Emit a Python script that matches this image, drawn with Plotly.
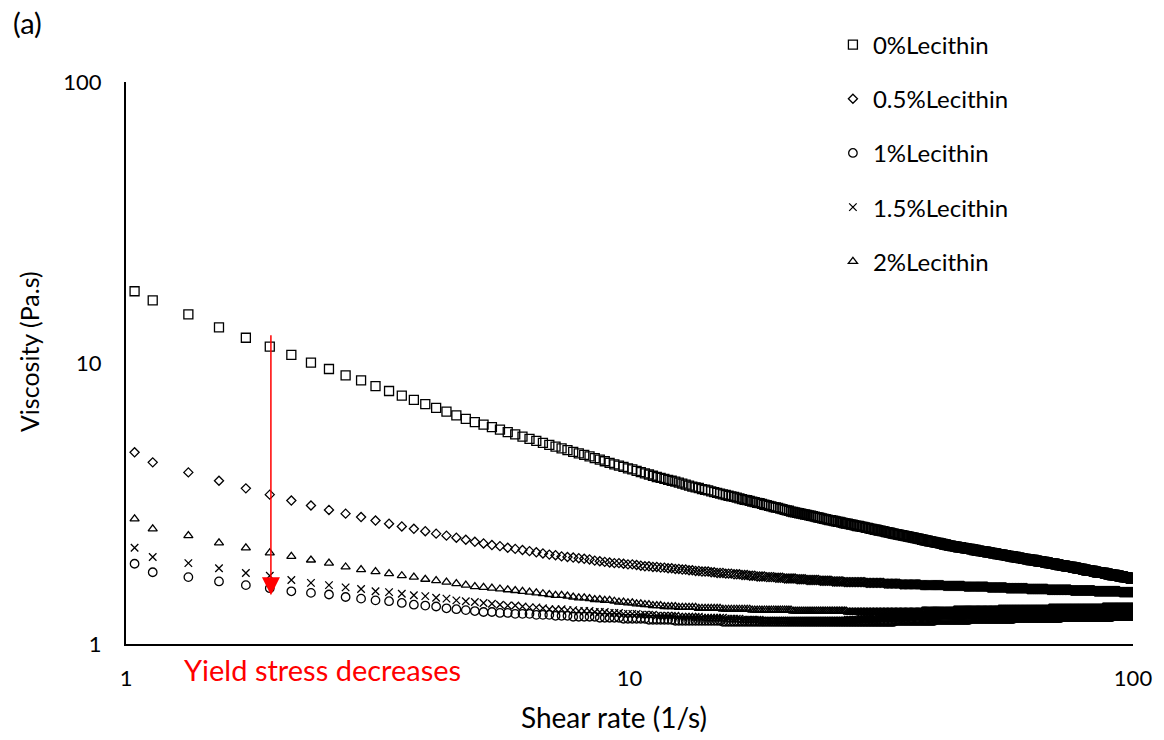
import math
import plotly.graph_objects as go

# Shear-rate ramp (1/s) shared by all five samples
shear_rate = [
    1.04,
    1.13, 1.33, 1.53, 1.73, 1.93, 2.13, 2.33, 2.53, 2.73, 2.93,
    3.13, 3.33, 3.53, 3.73, 3.93, 4.13, 4.33, 4.53, 4.73, 4.93,
    5.13, 5.33, 5.53, 5.73, 5.93, 6.13, 6.33, 6.53, 6.73, 6.93,
    7.13, 7.33, 7.53, 7.73, 7.93, 8.13, 8.33, 8.53, 8.73, 8.93,
    9.13, 9.33, 9.53, 9.73, 9.93, 10.13, 10.33, 10.53, 10.73, 10.93,
    11.13, 11.33, 11.53, 11.73, 11.93, 12.13, 12.33, 12.53, 12.73, 12.93,
    13.13, 13.33, 13.53, 13.73, 13.93, 14.13, 14.33, 14.53, 14.73, 14.93,
    15.13, 15.33, 15.53, 15.73, 15.93, 16.13, 16.33, 16.53, 16.73, 16.93,
    17.13, 17.33, 17.53, 17.73, 17.93, 18.13, 18.33, 18.53, 18.73, 18.93,
    19.13, 19.33, 19.53, 19.73, 19.93, 20.13, 20.33, 20.53, 20.73, 20.93,
    21.13, 21.33, 21.53, 21.73, 21.93, 22.13, 22.33, 22.53, 22.73, 22.93,
    23.13, 23.33, 23.53, 23.73, 23.93, 24.13, 24.33, 24.53, 24.73, 24.93,
    25.13, 25.33, 25.53, 25.73, 25.93, 26.13, 26.33, 26.53, 26.73, 26.93,
    27.13, 27.33, 27.53, 27.73, 27.93, 28.13, 28.33, 28.53, 28.73, 28.93,
    29.13, 29.33, 29.53, 29.73, 29.93, 30.13, 30.33, 30.53, 30.73, 30.93,
    31.13, 31.33, 31.53, 31.73, 31.93, 32.13, 32.33, 32.53, 32.73, 32.93,
    33.13, 33.33, 33.53, 33.73, 33.93, 34.13, 34.33, 34.53, 34.73, 34.93,
    35.13, 35.33, 35.53, 35.73, 35.93, 36.13, 36.33, 36.53, 36.73, 36.93,
    37.13, 37.33, 37.53, 37.73, 37.93, 38.13, 38.33, 38.53, 38.73, 38.93,
    39.13, 39.33, 39.53, 39.73, 39.93, 40.13, 40.33, 40.53, 40.73, 40.93,
    41.13, 41.33, 41.53, 41.73, 41.93, 42.13, 42.33, 42.53, 42.73, 42.93,
    43.13, 43.33, 43.53, 43.73, 43.93, 44.13, 44.33, 44.53, 44.73, 44.93,
    45.13, 45.33, 45.53, 45.73, 45.93, 46.13, 46.33, 46.53, 46.73, 46.93,
    47.13, 47.33, 47.53, 47.73, 47.93, 48.13, 48.33, 48.53, 48.73, 48.93,
    49.13, 49.33, 49.53, 49.73, 49.93, 50.13, 50.33, 50.53, 50.73, 50.93,
    51.13, 51.33, 51.53, 51.73, 51.93, 52.13, 52.33, 52.53, 52.73, 52.93,
    53.13, 53.33, 53.53, 53.73, 53.93, 54.13, 54.33, 54.53, 54.73, 54.93,
    55.13, 55.33, 55.53, 55.73, 55.93, 56.13, 56.33, 56.53, 56.73, 56.93,
    57.13, 57.33, 57.53, 57.73, 57.93, 58.13, 58.33, 58.53, 58.73, 58.93,
    59.13, 59.33, 59.53, 59.73, 59.93, 60.13, 60.33, 60.53, 60.73, 60.93,
    61.13, 61.33, 61.53, 61.73, 61.93, 62.13, 62.33, 62.53, 62.73, 62.93,
    63.13, 63.33, 63.53, 63.73, 63.93, 64.13, 64.33, 64.53, 64.73, 64.93,
    65.13, 65.33, 65.53, 65.73, 65.93, 66.13, 66.33, 66.53, 66.73, 66.93,
    67.13, 67.33, 67.53, 67.73, 67.93, 68.13, 68.33, 68.53, 68.73, 68.93,
    69.13, 69.33, 69.53, 69.73, 69.93, 70.13, 70.33, 70.53, 70.73, 70.93,
    71.13, 71.33, 71.53, 71.73, 71.93, 72.13, 72.33, 72.53, 72.73, 72.93,
    73.13, 73.33, 73.53, 73.73, 73.93, 74.13, 74.33, 74.53, 74.73, 74.93,
    75.13, 75.33, 75.53, 75.73, 75.93, 76.13, 76.33, 76.53, 76.73, 76.93,
    77.13, 77.33, 77.53, 77.73, 77.93, 78.13, 78.33, 78.53, 78.73, 78.93,
    79.13, 79.33, 79.53, 79.73, 79.93, 80.13, 80.33, 80.53, 80.73, 80.93,
    81.13, 81.33, 81.53, 81.73, 81.93, 82.13, 82.33, 82.53, 82.73, 82.93,
    83.13, 83.33, 83.53, 83.73, 83.93, 84.13, 84.33, 84.53, 84.73, 84.93,
    85.13, 85.33, 85.53, 85.73, 85.93, 86.13, 86.33, 86.53, 86.73, 86.93,
    87.13, 87.33, 87.53, 87.73, 87.93, 88.13, 88.33, 88.53, 88.73, 88.93,
    89.13, 89.33, 89.53, 89.73, 89.93, 90.13, 90.33, 90.53, 90.73, 90.93,
    91.13, 91.33, 91.53, 91.73, 91.93, 92.13, 92.33, 92.53, 92.73, 92.93,
    93.13, 93.33, 93.53, 93.73, 93.93, 94.13, 94.33, 94.53, 94.73, 94.93,
    95.13, 95.33, 95.53, 95.73, 95.93, 96.13, 96.33, 96.53, 96.73, 96.93,
    97.13, 97.33, 97.53, 97.73, 97.93, 98.13, 98.33, 98.53, 98.73, 98.93,
    99.13, 99.33, 99.53, 99.73, 99.93,
]

# Viscosity (Pa.s) of each sample along the ramp
visc_0 = [
    18.0,
    16.7, 14.9, 13.4, 12.3, 11.43, 10.68, 10.03, 9.52, 9.04, 8.68,
    8.28, 7.95, 7.66, 7.39, 7.14, 6.92, 6.71, 6.51, 6.33, 6.16,
    6.04, 5.91, 5.79, 5.68, 5.57, 5.47, 5.37, 5.28, 5.20, 5.11,
    5.04, 4.97, 4.90, 4.83, 4.77, 4.71, 4.65, 4.59, 4.53, 4.47,
    4.41, 4.36, 4.31, 4.27, 4.22, 4.18, 4.13, 4.09, 4.05, 4.01,
    3.97, 3.93, 3.90, 3.87, 3.84, 3.81, 3.78, 3.75, 3.72, 3.69,
    3.66, 3.63, 3.61, 3.59, 3.56, 3.54, 3.52, 3.49, 3.47, 3.45,
    3.43, 3.41, 3.39, 3.37, 3.35, 3.34, 3.32, 3.30, 3.28, 3.26,
    3.25, 3.23, 3.21, 3.20, 3.18, 3.17, 3.15, 3.13, 3.12, 3.10,
    3.09, 3.07, 3.06, 3.05, 3.03, 3.02, 3.00, 2.99, 2.98, 2.96,
    2.95, 2.94, 2.93, 2.92, 2.91, 2.90, 2.89, 2.88, 2.87, 2.86,
    2.85, 2.84, 2.83, 2.82, 2.81, 2.80, 2.79, 2.78, 2.77, 2.76,
    2.76, 2.75, 2.74, 2.73, 2.72, 2.72, 2.71, 2.70, 2.69, 2.68,
    2.68, 2.67, 2.66, 2.66, 2.65, 2.64, 2.63, 2.63, 2.62, 2.61,
    2.61, 2.60, 2.59, 2.59, 2.58, 2.57, 2.57, 2.56, 2.55, 2.55,
    2.54, 2.53, 2.53, 2.52, 2.52, 2.51, 2.50, 2.50, 2.49, 2.49,
    2.48, 2.47, 2.47, 2.46, 2.46, 2.45, 2.45, 2.44, 2.44, 2.43,
    2.43, 2.42, 2.42, 2.41, 2.41, 2.40, 2.40, 2.39, 2.39, 2.38,
    2.38, 2.37, 2.37, 2.36, 2.36, 2.35, 2.35, 2.34, 2.34, 2.33,
    2.33, 2.32, 2.32, 2.32, 2.31, 2.31, 2.30, 2.30, 2.29, 2.29,
    2.29, 2.28, 2.28, 2.27, 2.27, 2.26, 2.26, 2.26, 2.25, 2.25,
    2.24, 2.24, 2.24, 2.23, 2.23, 2.23, 2.22, 2.22, 2.22, 2.21,
    2.21, 2.21, 2.21, 2.20, 2.20, 2.20, 2.19, 2.19, 2.19, 2.18,
    2.18, 2.18, 2.18, 2.17, 2.17, 2.17, 2.16, 2.16, 2.16, 2.15,
    2.15, 2.15, 2.15, 2.14, 2.14, 2.14, 2.14, 2.13, 2.13, 2.13,
    2.13, 2.12, 2.12, 2.12, 2.12, 2.11, 2.11, 2.11, 2.10, 2.10,
    2.10, 2.10, 2.10, 2.09, 2.09, 2.09, 2.09, 2.08, 2.08, 2.08,
    2.08, 2.07, 2.07, 2.07, 2.07, 2.06, 2.06, 2.06, 2.06, 2.05,
    2.05, 2.05, 2.05, 2.05, 2.04, 2.04, 2.04, 2.04, 2.03, 2.03,
    2.03, 2.03, 2.03, 2.02, 2.02, 2.02, 2.02, 2.01, 2.01, 2.01,
    2.01, 2.01, 2.00, 2.00, 2.00, 2.00, 2.00, 1.99, 1.99, 1.99,
    1.99, 1.99, 1.99, 1.98, 1.98, 1.98, 1.98, 1.98, 1.97, 1.97,
    1.97, 1.97, 1.97, 1.97, 1.96, 1.96, 1.96, 1.96, 1.96, 1.95,
    1.95, 1.95, 1.95, 1.95, 1.94, 1.94, 1.94, 1.94, 1.94, 1.93,
    1.93, 1.93, 1.93, 1.93, 1.93, 1.92, 1.92, 1.92, 1.92, 1.92,
    1.92, 1.91, 1.91, 1.91, 1.91, 1.91, 1.90, 1.90, 1.90, 1.90,
    1.90, 1.90, 1.89, 1.89, 1.89, 1.89, 1.89, 1.88, 1.88, 1.88,
    1.88, 1.88, 1.88, 1.88, 1.87, 1.87, 1.87, 1.87, 1.87, 1.87,
    1.87, 1.86, 1.86, 1.86, 1.86, 1.86, 1.85, 1.85, 1.85, 1.85,
    1.85, 1.85, 1.84, 1.84, 1.84, 1.84, 1.84, 1.84, 1.83, 1.83,
    1.83, 1.83, 1.83, 1.83, 1.83, 1.82, 1.82, 1.82, 1.82, 1.82,
    1.82, 1.82, 1.81, 1.81, 1.81, 1.81, 1.81, 1.81, 1.80, 1.80,
    1.80, 1.80, 1.80, 1.80, 1.80, 1.80, 1.79, 1.79, 1.79, 1.79,
    1.79, 1.79, 1.79, 1.79, 1.78, 1.78, 1.78, 1.78, 1.78, 1.78,
    1.78, 1.77, 1.77, 1.77, 1.77, 1.77, 1.77, 1.77, 1.76, 1.76,
    1.76, 1.76, 1.76, 1.76, 1.76, 1.76, 1.75, 1.75, 1.75, 1.75,
    1.75, 1.75, 1.75, 1.75, 1.74, 1.74, 1.74, 1.74, 1.74, 1.74,
    1.74, 1.74, 1.74, 1.73, 1.73, 1.73, 1.73, 1.73, 1.73, 1.73,
    1.73, 1.72, 1.72, 1.72, 1.72, 1.72, 1.72, 1.72, 1.72, 1.71,
    1.71, 1.71, 1.71, 1.71, 1.71,
]

visc_05 = [
    4.81,
    4.43, 4.08, 3.81, 3.58, 3.40, 3.24, 3.11, 3.00, 2.91, 2.83,
    2.75, 2.68, 2.62, 2.57, 2.52, 2.47, 2.43, 2.39, 2.35, 2.31,
    2.28, 2.25, 2.23, 2.20, 2.18, 2.16, 2.14, 2.12, 2.10, 2.08,
    2.07, 2.05, 2.04, 2.03, 2.02, 2.01, 2.00, 1.98, 1.97, 1.96,
    1.95, 1.94, 1.94, 1.93, 1.92, 1.92, 1.91, 1.90, 1.89, 1.89,
    1.88, 1.88, 1.87, 1.87, 1.86, 1.86, 1.85, 1.85, 1.84, 1.84,
    1.83, 1.83, 1.82, 1.82, 1.81, 1.81, 1.81, 1.80, 1.80, 1.79,
    1.79, 1.79, 1.78, 1.78, 1.78, 1.77, 1.77, 1.77, 1.76, 1.76,
    1.76, 1.75, 1.75, 1.75, 1.74, 1.74, 1.74, 1.74, 1.73, 1.73,
    1.73, 1.73, 1.72, 1.72, 1.72, 1.72, 1.71, 1.71, 1.71, 1.71,
    1.71, 1.71, 1.70, 1.70, 1.70, 1.70, 1.70, 1.69, 1.69, 1.69,
    1.69, 1.69, 1.69, 1.69, 1.68, 1.68, 1.68, 1.68, 1.68, 1.68,
    1.68, 1.67, 1.67, 1.67, 1.67, 1.67, 1.67, 1.67, 1.66, 1.66,
    1.66, 1.66, 1.66, 1.66, 1.66, 1.66, 1.66, 1.66, 1.66, 1.66,
    1.66, 1.66, 1.65, 1.65, 1.65, 1.65, 1.65, 1.65, 1.65, 1.65,
    1.65, 1.65, 1.65, 1.65, 1.65, 1.64, 1.64, 1.64, 1.64, 1.64,
    1.64, 1.64, 1.64, 1.64, 1.64, 1.64, 1.64, 1.63, 1.63, 1.63,
    1.63, 1.63, 1.63, 1.63, 1.63, 1.63, 1.63, 1.63, 1.63, 1.63,
    1.63, 1.63, 1.63, 1.63, 1.62, 1.62, 1.62, 1.62, 1.62, 1.62,
    1.62, 1.62, 1.62, 1.62, 1.62, 1.62, 1.62, 1.62, 1.62, 1.62,
    1.62, 1.62, 1.62, 1.62, 1.62, 1.61, 1.61, 1.61, 1.61, 1.61,
    1.61, 1.61, 1.61, 1.61, 1.61, 1.61, 1.61, 1.61, 1.61, 1.61,
    1.61, 1.61, 1.61, 1.61, 1.61, 1.61, 1.60, 1.60, 1.60, 1.60,
    1.60, 1.60, 1.60, 1.60, 1.60, 1.60, 1.60, 1.60, 1.60, 1.60,
    1.60, 1.60, 1.60, 1.60, 1.60, 1.60, 1.60, 1.60, 1.60, 1.60,
    1.60, 1.60, 1.59, 1.59, 1.59, 1.59, 1.59, 1.59, 1.59, 1.59,
    1.59, 1.59, 1.59, 1.59, 1.59, 1.59, 1.59, 1.59, 1.59, 1.59,
    1.59, 1.59, 1.59, 1.59, 1.59, 1.58, 1.58, 1.58, 1.58, 1.58,
    1.58, 1.58, 1.58, 1.58, 1.58, 1.58, 1.58, 1.58, 1.58, 1.58,
    1.58, 1.58, 1.58, 1.58, 1.58, 1.58, 1.58, 1.58, 1.58, 1.58,
    1.58, 1.58, 1.58, 1.57, 1.57, 1.57, 1.57, 1.57, 1.57, 1.57,
    1.57, 1.57, 1.57, 1.57, 1.57, 1.57, 1.57, 1.57, 1.57, 1.57,
    1.57, 1.57, 1.57, 1.57, 1.57, 1.57, 1.57, 1.57, 1.57, 1.57,
    1.57, 1.57, 1.57, 1.56, 1.56, 1.56, 1.56, 1.56, 1.56, 1.56,
    1.56, 1.56, 1.56, 1.56, 1.56, 1.56, 1.56, 1.56, 1.56, 1.56,
    1.56, 1.56, 1.56, 1.56, 1.56, 1.56, 1.56, 1.56, 1.56, 1.56,
    1.56, 1.56, 1.56, 1.56, 1.56, 1.56, 1.56, 1.56, 1.56, 1.56,
    1.56, 1.55, 1.55, 1.55, 1.55, 1.55, 1.55, 1.55, 1.55, 1.55,
    1.55, 1.55, 1.55, 1.55, 1.55, 1.55, 1.55, 1.55, 1.55, 1.55,
    1.55, 1.55, 1.55, 1.55, 1.55, 1.55, 1.55, 1.55, 1.55, 1.55,
    1.55, 1.55, 1.55, 1.55, 1.55, 1.55, 1.55, 1.55, 1.55, 1.55,
    1.55, 1.55, 1.55, 1.55, 1.54, 1.54, 1.54, 1.54, 1.54, 1.54,
    1.54, 1.54, 1.54, 1.54, 1.54, 1.54, 1.54, 1.54, 1.54, 1.54,
    1.54, 1.54, 1.54, 1.54, 1.54, 1.54, 1.54, 1.54, 1.54, 1.54,
    1.54, 1.54, 1.54, 1.54, 1.54, 1.54, 1.54, 1.54, 1.54, 1.54,
    1.54, 1.54, 1.54, 1.54, 1.54, 1.54, 1.54, 1.54, 1.54, 1.54,
    1.54, 1.54, 1.54, 1.54, 1.54, 1.53, 1.53, 1.53, 1.53, 1.53,
    1.53, 1.53, 1.53, 1.53, 1.53, 1.53, 1.53, 1.53, 1.53, 1.53,
    1.53, 1.53, 1.53, 1.53, 1.53, 1.53, 1.53, 1.53, 1.53, 1.53,
    1.53, 1.53, 1.53, 1.53, 1.53,
]

visc_1 = [
    1.93,
    1.80, 1.73, 1.67, 1.62, 1.58, 1.54, 1.52, 1.50, 1.47, 1.45,
    1.43, 1.42, 1.40, 1.38, 1.37, 1.36, 1.34, 1.33, 1.32, 1.31,
    1.30, 1.30, 1.29, 1.29, 1.28, 1.28, 1.28, 1.27, 1.27, 1.27,
    1.26, 1.26, 1.26, 1.25, 1.25, 1.25, 1.25, 1.25, 1.24, 1.24,
    1.24, 1.24, 1.24, 1.23, 1.23, 1.23, 1.23, 1.23, 1.23, 1.22,
    1.22, 1.22, 1.22, 1.22, 1.22, 1.22, 1.21, 1.21, 1.21, 1.21,
    1.21, 1.21, 1.21, 1.21, 1.21, 1.21, 1.21, 1.21, 1.21, 1.21,
    1.21, 1.20, 1.20, 1.20, 1.20, 1.20, 1.20, 1.20, 1.20, 1.20,
    1.20, 1.20, 1.20, 1.20, 1.20, 1.20, 1.20, 1.20, 1.20, 1.20,
    1.20, 1.20, 1.20, 1.20, 1.20, 1.20, 1.20, 1.20, 1.20, 1.20,
    1.20, 1.20, 1.20, 1.20, 1.20, 1.20, 1.20, 1.20, 1.20, 1.20,
    1.20, 1.20, 1.20, 1.20, 1.20, 1.20, 1.20, 1.20, 1.20, 1.20,
    1.20, 1.20, 1.20, 1.20, 1.20, 1.20, 1.20, 1.20, 1.20, 1.20,
    1.20, 1.20, 1.20, 1.20, 1.20, 1.20, 1.20, 1.20, 1.20, 1.20,
    1.20, 1.20, 1.20, 1.20, 1.20, 1.20, 1.20, 1.20, 1.20, 1.20,
    1.20, 1.20, 1.20, 1.20, 1.20, 1.20, 1.20, 1.20, 1.20, 1.20,
    1.20, 1.20, 1.20, 1.21, 1.21, 1.21, 1.21, 1.21, 1.21, 1.21,
    1.21, 1.21, 1.21, 1.21, 1.21, 1.21, 1.21, 1.21, 1.21, 1.21,
    1.21, 1.21, 1.21, 1.21, 1.21, 1.21, 1.21, 1.21, 1.21, 1.21,
    1.21, 1.21, 1.21, 1.21, 1.21, 1.21, 1.21, 1.22, 1.22, 1.22,
    1.22, 1.22, 1.22, 1.22, 1.22, 1.22, 1.22, 1.22, 1.22, 1.22,
    1.22, 1.22, 1.22, 1.22, 1.22, 1.22, 1.22, 1.22, 1.22, 1.22,
    1.22, 1.22, 1.22, 1.22, 1.22, 1.22, 1.22, 1.22, 1.22, 1.22,
    1.22, 1.22, 1.23, 1.23, 1.23, 1.23, 1.23, 1.23, 1.23, 1.23,
    1.23, 1.23, 1.23, 1.23, 1.23, 1.23, 1.23, 1.23, 1.23, 1.23,
    1.23, 1.23, 1.23, 1.23, 1.23, 1.23, 1.23, 1.23, 1.23, 1.23,
    1.23, 1.23, 1.23, 1.23, 1.23, 1.23, 1.23, 1.23, 1.23, 1.23,
    1.23, 1.23, 1.23, 1.23, 1.23, 1.23, 1.23, 1.23, 1.23, 1.23,
    1.23, 1.23, 1.23, 1.23, 1.23, 1.24, 1.24, 1.24, 1.24, 1.24,
    1.24, 1.24, 1.24, 1.24, 1.24, 1.24, 1.24, 1.24, 1.24, 1.24,
    1.24, 1.24, 1.24, 1.24, 1.24, 1.24, 1.24, 1.24, 1.24, 1.24,
    1.24, 1.24, 1.24, 1.24, 1.24, 1.24, 1.24, 1.24, 1.24, 1.24,
    1.24, 1.24, 1.24, 1.24, 1.24, 1.24, 1.24, 1.24, 1.24, 1.24,
    1.24, 1.24, 1.24, 1.24, 1.24, 1.24, 1.24, 1.24, 1.24, 1.24,
    1.24, 1.24, 1.24, 1.24, 1.24, 1.24, 1.24, 1.24, 1.24, 1.24,
    1.24, 1.24, 1.24, 1.24, 1.24, 1.25, 1.25, 1.25, 1.25, 1.25,
    1.25, 1.25, 1.25, 1.25, 1.25, 1.25, 1.25, 1.25, 1.25, 1.25,
    1.25, 1.25, 1.25, 1.25, 1.25, 1.25, 1.25, 1.25, 1.25, 1.25,
    1.25, 1.25, 1.25, 1.25, 1.25, 1.25, 1.25, 1.25, 1.25, 1.25,
    1.25, 1.25, 1.25, 1.25, 1.25, 1.25, 1.25, 1.25, 1.25, 1.25,
    1.25, 1.25, 1.25, 1.25, 1.25, 1.25, 1.25, 1.25, 1.25, 1.25,
    1.25, 1.25, 1.25, 1.25, 1.25, 1.25, 1.25, 1.25, 1.25, 1.25,
    1.25, 1.25, 1.25, 1.25, 1.25, 1.25, 1.25, 1.25, 1.25, 1.25,
    1.25, 1.25, 1.25, 1.25, 1.25, 1.25, 1.25, 1.25, 1.25, 1.25,
    1.25, 1.25, 1.25, 1.25, 1.25, 1.25, 1.25, 1.25, 1.25, 1.25,
    1.26, 1.26, 1.26, 1.26, 1.26, 1.26, 1.26, 1.26, 1.26, 1.26,
    1.26, 1.26, 1.26, 1.26, 1.26, 1.26, 1.26, 1.26, 1.26, 1.26,
    1.26, 1.26, 1.26, 1.26, 1.26, 1.26, 1.26, 1.26, 1.26, 1.26,
    1.26, 1.26, 1.26, 1.26, 1.26, 1.26, 1.26, 1.26, 1.26, 1.26,
    1.26, 1.26, 1.26, 1.26, 1.26,
]

visc_15 = [
    2.20,
    2.04, 1.94, 1.86, 1.79, 1.75, 1.69, 1.65, 1.62, 1.59, 1.57,
    1.54, 1.53, 1.51, 1.49, 1.48, 1.46, 1.45, 1.43, 1.42, 1.41,
    1.40, 1.39, 1.38, 1.37, 1.37, 1.36, 1.35, 1.35, 1.34, 1.33,
    1.33, 1.33, 1.32, 1.32, 1.31, 1.31, 1.31, 1.30, 1.30, 1.30,
    1.29, 1.29, 1.29, 1.28, 1.28, 1.28, 1.28, 1.27, 1.27, 1.27,
    1.27, 1.26, 1.26, 1.26, 1.26, 1.26, 1.26, 1.25, 1.25, 1.25,
    1.25, 1.25, 1.25, 1.25, 1.24, 1.24, 1.24, 1.24, 1.24, 1.24,
    1.24, 1.24, 1.23, 1.23, 1.23, 1.23, 1.23, 1.23, 1.22, 1.22,
    1.22, 1.22, 1.22, 1.22, 1.22, 1.22, 1.21, 1.21, 1.21, 1.21,
    1.21, 1.21, 1.21, 1.21, 1.21, 1.21, 1.21, 1.21, 1.21, 1.21,
    1.21, 1.21, 1.21, 1.21, 1.21, 1.21, 1.21, 1.21, 1.21, 1.21,
    1.21, 1.21, 1.21, 1.21, 1.21, 1.21, 1.21, 1.21, 1.21, 1.21,
    1.21, 1.21, 1.21, 1.21, 1.21, 1.21, 1.21, 1.21, 1.21, 1.21,
    1.22, 1.22, 1.22, 1.22, 1.22, 1.22, 1.22, 1.22, 1.23, 1.23,
    1.23, 1.23, 1.23, 1.23, 1.23, 1.23, 1.23, 1.23, 1.23, 1.23,
    1.24, 1.24, 1.24, 1.24, 1.24, 1.24, 1.24, 1.24, 1.24, 1.24,
    1.24, 1.24, 1.24, 1.25, 1.25, 1.25, 1.25, 1.25, 1.25, 1.25,
    1.25, 1.25, 1.25, 1.25, 1.25, 1.25, 1.25, 1.26, 1.26, 1.26,
    1.26, 1.26, 1.26, 1.26, 1.26, 1.26, 1.26, 1.26, 1.26, 1.26,
    1.26, 1.26, 1.26, 1.26, 1.26, 1.27, 1.27, 1.27, 1.27, 1.27,
    1.27, 1.27, 1.27, 1.27, 1.27, 1.27, 1.27, 1.27, 1.27, 1.27,
    1.27, 1.27, 1.27, 1.27, 1.27, 1.27, 1.27, 1.27, 1.27, 1.27,
    1.27, 1.28, 1.28, 1.28, 1.28, 1.28, 1.28, 1.28, 1.28, 1.28,
    1.28, 1.28, 1.28, 1.28, 1.28, 1.28, 1.28, 1.28, 1.28, 1.28,
    1.28, 1.28, 1.28, 1.28, 1.28, 1.28, 1.28, 1.28, 1.28, 1.28,
    1.28, 1.28, 1.28, 1.28, 1.28, 1.28, 1.28, 1.28, 1.28, 1.28,
    1.29, 1.29, 1.29, 1.29, 1.29, 1.29, 1.29, 1.29, 1.29, 1.29,
    1.29, 1.29, 1.29, 1.29, 1.29, 1.29, 1.29, 1.29, 1.29, 1.29,
    1.29, 1.29, 1.29, 1.29, 1.29, 1.29, 1.29, 1.29, 1.29, 1.29,
    1.29, 1.29, 1.29, 1.29, 1.29, 1.29, 1.29, 1.29, 1.29, 1.29,
    1.29, 1.29, 1.29, 1.29, 1.29, 1.29, 1.29, 1.29, 1.29, 1.29,
    1.29, 1.29, 1.29, 1.29, 1.29, 1.29, 1.29, 1.29, 1.29, 1.29,
    1.30, 1.30, 1.30, 1.30, 1.30, 1.30, 1.30, 1.30, 1.30, 1.30,
    1.30, 1.30, 1.30, 1.30, 1.30, 1.30, 1.30, 1.30, 1.30, 1.30,
    1.30, 1.30, 1.30, 1.30, 1.30, 1.30, 1.30, 1.30, 1.30, 1.30,
    1.30, 1.30, 1.30, 1.30, 1.30, 1.30, 1.30, 1.30, 1.30, 1.30,
    1.30, 1.30, 1.30, 1.30, 1.30, 1.30, 1.30, 1.30, 1.30, 1.30,
    1.30, 1.30, 1.30, 1.30, 1.30, 1.30, 1.30, 1.30, 1.30, 1.30,
    1.30, 1.30, 1.30, 1.30, 1.30, 1.30, 1.30, 1.30, 1.30, 1.30,
    1.30, 1.30, 1.30, 1.30, 1.30, 1.30, 1.30, 1.30, 1.30, 1.30,
    1.31, 1.31, 1.31, 1.31, 1.31, 1.31, 1.31, 1.31, 1.31, 1.31,
    1.31, 1.31, 1.31, 1.31, 1.31, 1.31, 1.31, 1.31, 1.31, 1.31,
    1.31, 1.31, 1.31, 1.31, 1.31, 1.31, 1.31, 1.31, 1.31, 1.31,
    1.31, 1.31, 1.31, 1.31, 1.31, 1.31, 1.31, 1.31, 1.31, 1.31,
    1.31, 1.31, 1.31, 1.31, 1.31, 1.31, 1.31, 1.31, 1.31, 1.31,
    1.31, 1.31, 1.31, 1.31, 1.31, 1.31, 1.31, 1.31, 1.31, 1.31,
    1.31, 1.31, 1.31, 1.31, 1.31, 1.31, 1.31, 1.31, 1.31, 1.31,
    1.31, 1.31, 1.31, 1.31, 1.31, 1.31, 1.31, 1.31, 1.31, 1.31,
    1.31, 1.31, 1.31, 1.31, 1.31, 1.31, 1.31, 1.31, 1.31, 1.31,
    1.31, 1.31, 1.31, 1.31, 1.31,
]

visc_2 = [
    2.79,
    2.57, 2.43, 2.29, 2.20, 2.11, 2.05, 1.99, 1.94, 1.88, 1.84,
    1.81, 1.78, 1.75, 1.73, 1.70, 1.68, 1.66, 1.64, 1.62, 1.60,
    1.59, 1.58, 1.57, 1.56, 1.55, 1.54, 1.53, 1.52, 1.51, 1.50,
    1.49, 1.49, 1.48, 1.47, 1.46, 1.46, 1.45, 1.44, 1.44, 1.43,
    1.43, 1.42, 1.41, 1.41, 1.40, 1.40, 1.39, 1.39, 1.38, 1.38,
    1.37, 1.37, 1.37, 1.36, 1.36, 1.36, 1.36, 1.35, 1.35, 1.35,
    1.35, 1.35, 1.35, 1.34, 1.34, 1.34, 1.34, 1.34, 1.34, 1.34,
    1.34, 1.33, 1.33, 1.33, 1.33, 1.33, 1.33, 1.33, 1.33, 1.33,
    1.33, 1.33, 1.32, 1.32, 1.32, 1.32, 1.32, 1.32, 1.32, 1.32,
    1.32, 1.32, 1.32, 1.32, 1.32, 1.32, 1.32, 1.32, 1.32, 1.32,
    1.31, 1.31, 1.31, 1.31, 1.31, 1.31, 1.31, 1.31, 1.31, 1.31,
    1.31, 1.31, 1.31, 1.31, 1.31, 1.31, 1.31, 1.31, 1.31, 1.31,
    1.31, 1.31, 1.31, 1.31, 1.31, 1.31, 1.31, 1.31, 1.31, 1.31,
    1.30, 1.30, 1.30, 1.30, 1.30, 1.30, 1.30, 1.30, 1.30, 1.30,
    1.30, 1.30, 1.30, 1.30, 1.30, 1.30, 1.30, 1.30, 1.30, 1.30,
    1.30, 1.30, 1.30, 1.30, 1.30, 1.30, 1.30, 1.30, 1.30, 1.30,
    1.30, 1.30, 1.30, 1.30, 1.30, 1.30, 1.30, 1.30, 1.30, 1.30,
    1.30, 1.30, 1.30, 1.30, 1.30, 1.30, 1.30, 1.30, 1.30, 1.30,
    1.30, 1.30, 1.30, 1.30, 1.30, 1.31, 1.31, 1.31, 1.31, 1.31,
    1.31, 1.31, 1.31, 1.31, 1.31, 1.31, 1.31, 1.31, 1.31, 1.31,
    1.31, 1.31, 1.31, 1.31, 1.31, 1.31, 1.31, 1.31, 1.31, 1.31,
    1.31, 1.31, 1.31, 1.31, 1.31, 1.32, 1.32, 1.32, 1.32, 1.32,
    1.32, 1.32, 1.32, 1.32, 1.32, 1.32, 1.32, 1.32, 1.32, 1.32,
    1.32, 1.32, 1.32, 1.32, 1.32, 1.32, 1.32, 1.32, 1.32, 1.32,
    1.32, 1.32, 1.32, 1.32, 1.32, 1.32, 1.32, 1.32, 1.32, 1.32,
    1.32, 1.32, 1.32, 1.32, 1.32, 1.32, 1.32, 1.32, 1.32, 1.32,
    1.32, 1.32, 1.32, 1.32, 1.32, 1.33, 1.33, 1.33, 1.33, 1.33,
    1.33, 1.33, 1.33, 1.33, 1.33, 1.33, 1.33, 1.33, 1.33, 1.33,
    1.33, 1.33, 1.33, 1.33, 1.33, 1.33, 1.33, 1.33, 1.33, 1.33,
    1.33, 1.33, 1.33, 1.33, 1.33, 1.33, 1.33, 1.33, 1.33, 1.33,
    1.33, 1.33, 1.33, 1.33, 1.33, 1.33, 1.33, 1.33, 1.33, 1.33,
    1.33, 1.33, 1.33, 1.33, 1.33, 1.33, 1.33, 1.33, 1.33, 1.33,
    1.33, 1.33, 1.33, 1.33, 1.33, 1.33, 1.33, 1.33, 1.33, 1.33,
    1.33, 1.33, 1.33, 1.33, 1.33, 1.34, 1.34, 1.34, 1.34, 1.34,
    1.34, 1.34, 1.34, 1.34, 1.34, 1.34, 1.34, 1.34, 1.34, 1.34,
    1.34, 1.34, 1.34, 1.34, 1.34, 1.34, 1.34, 1.34, 1.34, 1.34,
    1.34, 1.34, 1.34, 1.34, 1.34, 1.34, 1.34, 1.34, 1.34, 1.34,
    1.34, 1.34, 1.34, 1.34, 1.34, 1.34, 1.34, 1.34, 1.34, 1.34,
    1.34, 1.34, 1.34, 1.34, 1.34, 1.34, 1.34, 1.34, 1.34, 1.34,
    1.34, 1.34, 1.34, 1.34, 1.34, 1.34, 1.34, 1.34, 1.34, 1.34,
    1.34, 1.34, 1.34, 1.34, 1.34, 1.34, 1.34, 1.34, 1.34, 1.34,
    1.34, 1.34, 1.34, 1.34, 1.34, 1.34, 1.34, 1.34, 1.34, 1.34,
    1.34, 1.34, 1.34, 1.34, 1.34, 1.34, 1.34, 1.34, 1.34, 1.34,
    1.35, 1.35, 1.35, 1.35, 1.35, 1.35, 1.35, 1.35, 1.35, 1.35,
    1.35, 1.35, 1.35, 1.35, 1.35, 1.35, 1.35, 1.35, 1.35, 1.35,
    1.35, 1.35, 1.35, 1.35, 1.35, 1.35, 1.35, 1.35, 1.35, 1.35,
    1.35, 1.35, 1.35, 1.35, 1.35, 1.35, 1.35, 1.35, 1.35, 1.35,
    1.35, 1.35, 1.35, 1.35, 1.35, 1.35, 1.35, 1.35, 1.35, 1.35,
    1.35, 1.35, 1.35, 1.35, 1.35, 1.35, 1.35, 1.35, 1.35, 1.35,
    1.35, 1.35, 1.35, 1.35, 1.35,
]

series_names = ["0%Lecithin", "0.5%Lecithin", "1%Lecithin", "1.5%Lecithin", "2%Lecithin"]
series_values = [visc_0, visc_05, visc_1, visc_15, visc_2]
series_symbols = ["square-open", "diamond-open", "circle-open", "x-thin-open", "triangle-up-open"]
series_sizes = [9, 7, 8.5, 7.5, 8]

for vals in series_values:
    assert len(vals) == len(shear_rate), (len(vals), len(shear_rate))

tick_vals = [1, 10, 100]
tick_text = ["1", "10", "100"]

# Arrow marking the drop in viscosity at low shear rate
arrow_rate = 1.94
arrow_top = 12.7
arrow_tip = 1.49

FONT = "Lato"
INK = "#000000"

fig = go.Figure()
for name, vals, sym, size in zip(series_names, series_values, series_symbols, series_sizes):
    fig.add_trace(go.Scatter(
        x=shear_rate, y=vals, mode="markers", name=name, legendgroup=name,
        marker=dict(symbol=sym, size=size, color=INK, line=dict(color=INK, width=1.3)),
    ))

axis_common = dict(
    type="log", range=[0, 2], showline=True, linecolor=INK, linewidth=2,
    showgrid=False, zeroline=False, ticks="", tickvals=tick_vals, ticktext=tick_text,
    tickfont=dict(family=FONT, size=22, color=INK),
)

fig.update_layout(
    width=1164, height=740,
    margin=dict(l=126, r=28, t=82, b=96),
    paper_bgcolor="white", plot_bgcolor="white",
    font=dict(family=FONT, color=INK),
    xaxis=dict(**axis_common, ticklabelstandoff=14),
    yaxis=dict(**axis_common, ticklabelstandoff=18),
    showlegend=True,
    legend=dict(
        x=0.702, y=1.106, xanchor="left", yanchor="top",
        font=dict(family=FONT, size=24, color=INK),
        traceorder="grouped", tracegroupgap=20,
        bgcolor="rgba(0,0,0,0)", borderwidth=0,
    ),
    annotations=[
        dict(x=math.log10(arrow_rate), y=math.log10(arrow_tip),
             ax=math.log10(arrow_rate), ay=math.log10(arrow_top),
             xref="x", yref="y", axref="x", ayref="y", text="",
             showarrow=True, arrowhead=2, arrowsize=2.4, arrowwidth=1.5, arrowcolor="#FF0000"),
        dict(text="Yield stress decreases", x=0.0554, y=-0.046, xref="paper", yref="paper",
             xanchor="left", yanchor="middle", showarrow=False,
             font=dict(family=FONT, size=29, color="#FF0000")),
        dict(text="Shear rate (1/s)", x=0.485, y=-0.13, xref="paper", yref="paper",
             xanchor="center", yanchor="middle", showarrow=False,
             font=dict(family=FONT, size=28, color=INK)),
        dict(text="Viscosity (Pa.s)", x=-0.097, y=0.52, xref="paper", yref="paper",
             xanchor="center", yanchor="middle", textangle=-90, showarrow=False,
             font=dict(family=FONT, size=25, color=INK)),
        dict(text="(a)", x=-0.114, y=1.106, xref="paper", yref="paper",
             xanchor="left", yanchor="middle", showarrow=False,
             font=dict(family=FONT, size=29, color=INK)),
    ],
)

fig.write_html("out.html")
